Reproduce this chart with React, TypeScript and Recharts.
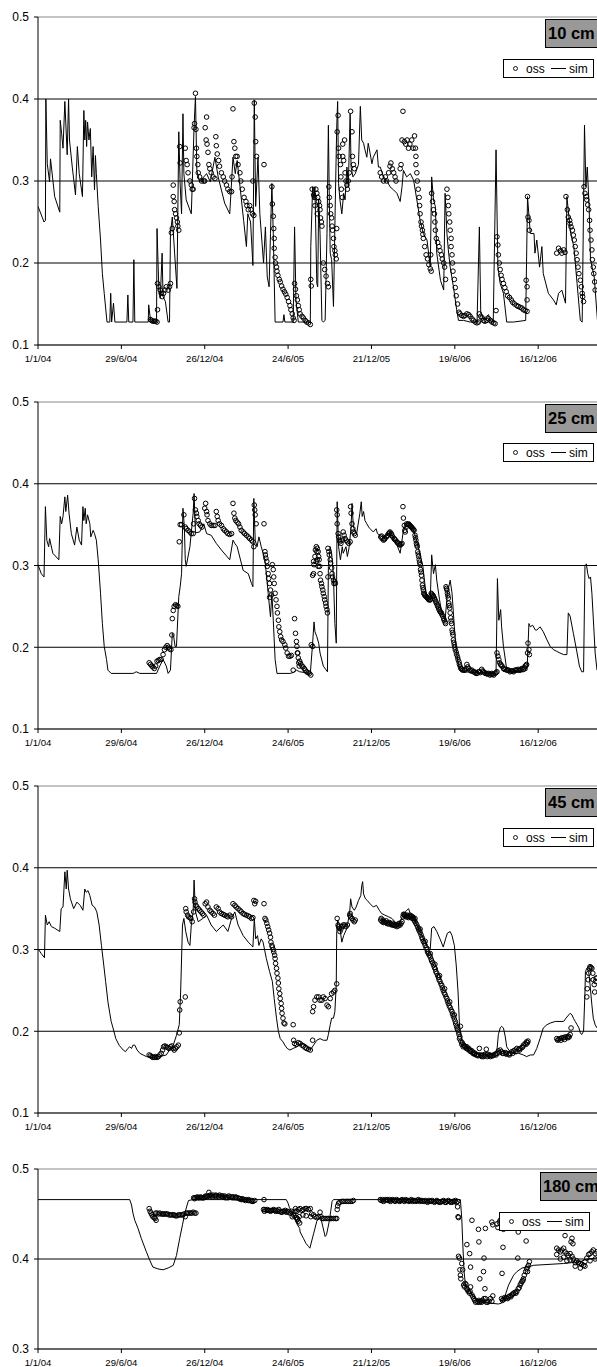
import { ComposedChart, Line, Scatter, XAxis, YAxis, ReferenceLine } from 'recharts';

// days since 1/1/04; ticks every 180 days
const tickDays = [0, 180, 360, 540, 720, 900, 1080];
const tickLabels = ['1/1/04', '29/6/04', '26/12/04', '24/6/05', '21/12/05', '19/6/06', '16/12/06'];
const lastDay = 1207;

const yTicksShallow = [0.1, 0.2, 0.3, 0.4, 0.5];
const yTicksDeep = [0.3, 0.4, 0.5];

// 10 cm
const sim10 = [
  [0,.269],[9,.256],[13,.25],[16,.252],[17,.4],[20,.321],[25,.299],[27,.327],[36,.281],[47,.262],[48,.374],[51,.358],
  [54,.34],[58,.397],[63,.332],[66,.4],[68,.35],[74,.317],[81,.283],[85,.342],[89,.309],[96,.281],[99,.386],[101,.35],
  [103,.374],[105,.342],[107,.372],[110,.35],[113,.364],[116,.305],[119,.342],[122,.289],[124,.331],[126,.309],[130,.269],
  [135,.228],[139,.187],[143,.163],[149,.128],[155,.128],[157,.163],[159,.128],[163,.151],[166,.128],[192,.128],[194,.161],
  [196,.128],[205,.128],[207,.204],[209,.128],[238,.128],[239,.149],[243,.13],[248,.128],[256,.128],[257,.242],[261,.167],
  [264,.157],[268,.212],[270,.159],[275,.153],[281,.128],[284,.128],[286,.236],[290,.256],[295,.212],[300,.169],[304,.36],
  [307,.295],[310,.26],[313,.382],[315,.309],[320,.277],[331,.26],[337,.366],[340,.403],[343,.313],[349,.299],[364,.309],
  [372,.299],[382,.329],[389,.305],[403,.273],[414,.26],[421,.329],[426,.309],[430,.325],[437,.289],[444,.252],[450,.22],
  [453,.26],[459,.25],[464,.197],[467,.399],[470,.269],[475,.329],[479,.26],[487,.2],[491,.244],[495,.183],[499,.171],
  [502,.236],[505,.297],[508,.236],[512,.128],[529,.128],[531,.137],[533,.128],[551,.128],[554,.244],[557,.155],[562,.128],
  [588,.128],[589,.22],[593,.293],[596,.277],[598,.293],[602,.175],[604,.171],[606,.277],[609,.236],[613,.13],[616,.128],
  [620,.13],[624,.236],[627,.368],[629,.277],[631,.212],[634,.204],[638,.147],[642,.277],[645,.366],[647,.397],[649,.297],
  [652,.277],[656,.26],[660,.285],[663,.277],[667,.317],[670,.293],[674,.382],[676,.317],[680,.305],[685,.309],[692,.32],
  [696,.391],[699,.35],[703,.346],[706,.338],[710,.329],[713,.346],[717,.334],[721,.321],[724,.329],[732,.338],[735,.317],
  [739,.317],[746,.305],[753,.301],[760,.293],[768,.289],[775,.285],[782,.275],[786,.293],[789,.313],[796,.305],[804,.309],
  [811,.301],[818,.277],[825,.252],[832,.236],[840,.228],[847,.195],[850,.305],[854,.277],[858,.269],[861,.212],[869,.179],
  [876,.167],[879,.285],[883,.236],[886,.216],[890,.195],[897,.171],[904,.143],[908,.13],[919,.13],[933,.128],[948,.128],
  [953,.244],[956,.139],[962,.132],[973,.137],[975,.13],[983,.128],[989,.338],[993,.195],[998,.175],[1005,.163],[1012,.128],
  [1027,.128],[1053,.13],[1057,.281],[1063,.236],[1071,.236],[1073,.212],[1077,.228],[1083,.195],[1088,.22],[1091,.187],
  [1102,.163],[1113,.155],[1119,.149],[1124,.163],[1131,.167],[1139,.151],[1142,.281],[1150,.236],[1157,.22],[1164,.175],
  [1171,.13],[1175,.128],[1180,.368],[1183,.293],[1186,.317],[1190,.269],[1193,.204],[1201,.183],[1208,.13],
];
const obs10 = [
  [243,.131],[245,.13],[248,.129],[251,.129],[254,.129],[257,.128],[258,.143],[258,.175],[261,.171],[264,.167],[266,.163],
  [268,.159],[271,.163],[274,.167],[277,.171],[281,.167],[284,.171],[286,.175],[288,.237],[290,.242],[292,.295],[292,.281],
  [294,.275],[295,.265],[297,.26],[299,.255],[301,.25],[302,.245],[304,.24],[306,.342],[307,.322],[318,.34],[320,.325],
  [322,.32],[324,.31],[328,.3],[331,.295],[333,.29],[335,.29],[337,.365],[338,.37],[340,.407],[341,.363],[342,.34],[343,.33],
  [345,.32],[346,.31],[349,.305],[353,.3],[358,.3],[360,.3],[361,.365],[363,.35],[364,.378],[365,.345],[367,.335],[369,.32],
  [371,.315],[374,.31],[378,.305],[382,.303],[384,.354],[385,.343],[387,.333],[390,.325],[392,.318],[396,.31],[400,.305],
  [403,.3],[407,.295],[410,.29],[414,.287],[418,.287],[419,.305],[421,.388],[423,.348],[425,.34],[427,.33],[430,.33],
  [432,.32],[436,.31],[438,.3],[441,.29],[445,.28],[449,.275],[451,.27],[454,.265],[457,.27],[460,.265],[463,.26],[466,.258],
  [467,.395],[469,.378],[470,.348],[472,.33],[464,.3],[488,.32],[505,.293],[506,.272],[508,.257],[509,.242],[510,.23],
  [510,.218],[512,.207],[513,.2],[515,.195],[516,.19],[518,.185],[521,.18],[523,.177],[526,.172],[529,.168],[532,.165],
  [535,.162],[538,.158],[541,.153],[544,.148],[546,.143],[549,.138],[551,.133],[553,.13],[554,.175],[556,.168],[558,.16],
  [560,.155],[562,.148],[564,.143],[566,.138],[570,.135],[573,.133],[577,.13],[580,.128],[584,.127],[588,.125],[589,.18],
  [590,.172],[592,.29],[595,.283],[597,.28],[598,.27],[600,.29],[602,.285],[603,.26],[604,.28],[606,.275],[608,.27],
  [609,.265],[610,.255],[612,.25],[613,.245],[616,.2],[619,.192],[622,.184],[625,.175],[627,.171],[628,.293],[629,.28],
  [631,.27],[632,.26],[634,.255],[635,.245],[636,.24],[638,.23],[639,.22],[641,.215],[642,.21],[644,.205],[645,.242],
  [646,.36],[648,.38],[649,.34],[650,.33],[653,.32],[654,.305],[655,.29],[657,.28],[658,.33],[658,.345],[660,.325],
  [662,.35],[663,.31],[665,.3],[667,.295],[668,.29],[670,.3],[672,.31],[675,.385],[678,.36],[679,.33],[681,.32],[683,.315],
  [739,.31],[742,.305],[746,.3],[750,.305],[753,.3],[757,.31],[760,.318],[762,.322],[765,.315],[768,.31],[771,.305],
  [773,.3],[782,.315],[784,.32],[786,.35],[788,.385],[791,.348],[794,.345],[797,.35],[800,.34],[803,.345],[807,.35],
  [810,.34],[813,.355],[815,.34],[816,.32],[816,.33],[818,.31],[819,.3],[821,.29],[823,.28],[824,.27],[825,.26],[827,.25],
  [828,.245],[830,.24],[831,.235],[832,.23],[835,.22],[838,.21],[841,.205],[844,.198],[847,.193],[849,.19],[848,.21],
  [850,.285],[852,.275],[854,.265],[856,.26],[857,.25],[858,.24],[860,.23],[863,.225],[866,.22],[868,.215],[871,.21],
  [873,.205],[876,.2],[878,.195],[880,.18],[883,.29],[885,.28],[886,.27],[887,.26],[889,.25],[890,.24],[892,.23],[892,.22],
  [894,.21],[895,.2],[896,.19],[899,.18],[901,.17],[903,.16],[906,.15],[909,.14],[911,.138],[915,.136],[919,.135],
  [922,.136],[926,.138],[930,.137],[933,.135],[937,.132],[940,.13],[944,.128],[948,.127],[951,.128],[953,.138],[956,.135],
  [959,.133],[962,.13],[965,.129],[969,.13],[973,.132],[977,.13],[980,.128],[984,.127],[987,.126],[989,.142],[991,.232],
  [993,.222],[994,.21],[996,.2],[998,.192],[1000,.185],[1002,.18],[1005,.175],[1008,.17],[1011,.165],[1014,.16],[1018,.158],
  [1022,.155],[1025,.152],[1029,.15],[1034,.148],[1037,.147],[1041,.146],[1045,.145],[1048,.143],[1052,.142],[1056,.141],
  [1054,.179],[1056,.171],[1056,.155],[1057,.281],[1058,.256],[1060,.252],[1061,.24],[1120,.212],[1124,.218],[1128,.215],
  [1131,.212],[1135,.216],[1138,.213],[1140,.281],[1143,.265],[1145,.256],[1148,.252],[1149,.248],[1151,.244],[1154,.24],
  [1156,.234],[1158,.228],[1160,.22],[1162,.212],[1164,.204],[1166,.195],[1168,.187],[1171,.179],[1173,.171],[1175,.163],
  [1176,.159],[1178,.153],[1179,.293],[1181,.285],[1184,.281],[1185,.277],[1187,.271],[1189,.265],[1191,.252],[1192,.24],
  [1194,.228],[1196,.216],[1197,.204],[1199,.195],[1200,.187],[1202,.177],[1203,.167],
];

// 25 cm
const sim25 = [
  [0,.301],[7,.29],[13,.286],[16,.372],[19,.331],[23,.323],[25,.333],[32,.315],[45,.307],[48,.36],[51,.351],[54,.36],
  [58,.384],[60,.366],[64,.386],[67,.364],[72,.339],[79,.325],[84,.347],[89,.331],[94,.325],[97,.372],[99,.355],[102,.37],
  [104,.351],[107,.362],[112,.351],[114,.335],[119,.343],[122,.339],[126,.331],[130,.307],[135,.266],[139,.229],[143,.201],
  [148,.185],[151,.172],[158,.168],[205,.168],[209,.169],[212,.17],[220,.168],[256,.168],[263,.177],[270,.185],[277,.177],
  [281,.168],[286,.172],[290,.217],[293,.213],[296,.201],[299,.201],[304,.262],[307,.274],[310,.29],[313,.37],[316,.347],
  [318,.307],[320,.299],[328,.323],[335,.364],[337,.388],[340,.34],[349,.341],[358,.351],[364,.339],[374,.337],[385,.327],
  [396,.319],[414,.307],[421,.331],[425,.327],[430,.323],[443,.294],[454,.29],[461,.278],[464,.274],[466,.382],[469,.331],
  [473,.323],[477,.335],[482,.323],[490,.307],[497,.266],[502,.237],[505,.266],[508,.233],[512,.185],[516,.168],[544,.168],
  [551,.169],[558,.172],[565,.17],[588,.168],[593,.205],[596,.231],[598,.219],[602,.213],[606,.205],[609,.193],[616,.177],
  [625,.17],[627,.299],[631,.323],[634,.315],[638,.286],[641,.229],[644,.205],[645,.299],[646,.378],[649,.323],[653,.307],
  [657,.323],[659,.315],[665,.323],[668,.311],[672,.323],[676,.347],[678,.376],[681,.347],[688,.339],[695,.364],[698,.378],
  [700,.36],[703,.366],[706,.355],[710,.351],[714,.347],[717,.345],[724,.341],[730,.345],[733,.339],[739,.337],[746,.333],
  [753,.337],[760,.339],[768,.333],[775,.325],[782,.315],[786,.331],[789,.343],[796,.351],[804,.351],[811,.343],[818,.329],
  [825,.313],[831,.299],[836,.274],[841,.258],[847,.258],[850,.313],[854,.29],[858,.301],[861,.282],[867,.258],[872,.242],
  [879,.233],[884,.266],[890,.282],[894,.266],[899,.225],[903,.197],[907,.181],[912,.172],[919,.17],[948,.169],[989,.168],
  [992,.284],[995,.233],[999,.246],[1001,.225],[1005,.201],[1011,.177],[1019,.17],[1048,.17],[1056,.172],[1060,.229],
  [1063,.225],[1068,.227],[1074,.221],[1077,.221],[1084,.225],[1091,.219],[1099,.209],[1106,.201],[1113,.197],[1120,.195],
  [1127,.193],[1135,.191],[1142,.191],[1145,.242],[1149,.238],[1156,.217],[1164,.193],[1169,.177],[1174,.17],[1178,.17],
  [1181,.299],[1184,.302],[1187,.29],[1190,.284],[1193,.286],[1196,.266],[1200,.225],[1203,.193],[1207,.172],
];
const obs25 = [
  [240,.181],[243,.179],[246,.177],[248,.176],[251,.174],[254,.177],[257,.183],[260,.184],[263,.185],[266,.185],[270,.191],
  [273,.197],[276,.2],[279,.202],[282,.2],[284,.198],[287,.197],[289,.215],[290,.235],[292,.245],[294,.25],[297,.252],
  [300,.251],[302,.25],[305,.329],[307,.35],[310,.35],[315,.362],[318,.347],[320,.345],[324,.343],[328,.341],[331,.339],
  [335,.339],[336,.351],[338,.382],[340,.368],[342,.364],[343,.36],[346,.355],[348,.351],[351,.349],[354,.347],[360,.37],
  [362,.376],[364,.366],[365,.362],[367,.355],[371,.351],[374,.349],[378,.349],[382,.349],[385,.366],[387,.36],[389,.355],
  [392,.351],[396,.349],[400,.345],[403,.343],[407,.341],[410,.339],[414,.338],[418,.339],[421,.376],[423,.364],[425,.358],
  [427,.355],[430,.353],[433,.351],[436,.347],[439,.343],[443,.341],[446,.339],[450,.337],[454,.335],[457,.333],[461,.331],
  [464,.329],[466,.323],[467,.374],[468,.368],[469,.362],[471,.351],[488,.351],[490,.317],[491,.313],[492,.309],[494,.305],
  [495,.299],[497,.29],[498,.284],[500,.261],[500,.278],[502,.27],[504,.264],[506,.301],[508,.295],[509,.286],[510,.278],
  [512,.266],[514,.258],[516,.25],[517,.242],[519,.233],[520,.225],[522,.219],[524,.213],[526,.209],[529,.207],[533,.203],
  [535,.199],[538,.193],[541,.189],[544,.189],[547,.19],[551,.172],[554,.235],[556,.217],[558,.207],[559,.201],[560,.193],
  [562,.187],[563,.181],[564,.177],[561,.193],[565,.183],[567,.18],[570,.177],[572,.176],[575,.174],[577,.172],[580,.17],
  [583,.169],[586,.168],[589,.166],[590,.203],[593,.201],[593,.288],[595,.29],[596,.301],[598,.311],[599,.319],[601,.323],
  [602,.317],[603,.321],[605,.317],[606,.311],[607,.307],[608,.299],[609,.29],[610,.282],[612,.278],[613,.274],[615,.27],
  [616,.266],[618,.262],[619,.258],[621,.254],[622,.25],[624,.246],[625,.242],[595,.305],[601,.305],[603,.307],[605,.299],
  [626,.321],[628,.317],[629,.313],[631,.307],[632,.303],[634,.297],[635,.29],[636,.286],[638,.282],[639,.278],[641,.28],
  [642,.278],[626,.286],[645,.368],[646,.362],[646,.351],[648,.339],[649,.335],[651,.331],[652,.329],[654,.327],[657,.331],
  [659,.341],[661,.337],[663,.333],[665,.331],[668,.329],[671,.327],[674,.329],[675,.372],[676,.364],[678,.351],[680,.345],
  [681,.341],[683,.339],[685,.337],[740,.335],[743,.333],[746,.331],[749,.333],[752,.335],[755,.337],[757,.339],[760,.341],
  [763,.339],[766,.335],[769,.333],[772,.331],[775,.329],[778,.327],[782,.325],[786,.327],[788,.372],[789,.358],[791,.349],
  [792,.343],[793,.341],[795,.347],[796,.351],[800,.351],[803,.349],[806,.347],[809,.345],[812,.343],[814,.337],[816,.331],
  [817,.327],[819,.323],[820,.317],[822,.311],[823,.307],[825,.301],[826,.295],[828,.288],[829,.282],[830,.276],[832,.27],
  [833,.266],[835,.264],[838,.262],[841,.26],[844,.258],[847,.258],[849,.266],[852,.264],[854,.262],[857,.258],[860,.254],
  [863,.25],[866,.246],[868,.244],[871,.242],[874,.238],[877,.233],[880,.229],[881,.274],[883,.27],[884,.266],[886,.26],
  [887,.254],[889,.248],[890,.242],[891,.236],[893,.229],[894,.221],[896,.215],[897,.209],[899,.203],[901,.197],[904,.191],
  [907,.185],[910,.179],[913,.174],[917,.172],[922,.172],[926,.179],[930,.174],[933,.172],[937,.172],[940,.17],[944,.169],
  [948,.168],[951,.17],[955,.169],[958,.173],[962,.17],[966,.168],[969,.168],[973,.168],[976,.166],[980,.168],[984,.166],
  [987,.168],[991,.17],[991,.193],[993,.189],[995,.185],[997,.181],[999,.179],[1002,.177],[1005,.174],[1009,.173],
  [1012,.172],[1016,.172],[1019,.17],[1023,.171],[1027,.17],[1030,.172],[1034,.172],[1037,.173],[1041,.172],[1045,.174],
  [1048,.173],[1052,.177],[1055,.179],[1057,.193],[1058,.205],[1060,.197],[1061,.191],
  // denser readings where the record forms solid bands
  [742,.336],[748,.332],[754,.336],[759,.34],[764,.337],[770,.332],[776,.328],[780,.326],[784,.326],[798,.35],[801,.35],
  [805,.348],[808,.346],[811,.344],[815,.334],[818,.325],[821,.314],[824,.304],[827,.292],[831,.273],[834,.265],[836,.263],
  [840,.261],[843,.259],[846,.258],[850,.265],[853,.263],[856,.26],[859,.256],[862,.252],[865,.248],[869,.243],[872,.24],
  [876,.235],[879,.231],[882,.272],[885,.263],[888,.251],[892,.232],[895,.218],[898,.206],[900,.2],[903,.194],[906,.188],
  [909,.182],[912,.176],[915,.173],[920,.172],[924,.174],[928,.176],[935,.171],[942,.17],[946,.168],[953,.17],[960,.171],
  [964,.169],[971,.167],[978,.167],[982,.167],[989,.169],[1000,.178],[1007,.173],[1014,.172],[1021,.171],[1025,.171],
  [1032,.172],[1039,.172],[1043,.173],[1050,.175],[1054,.178],
];

// 45 cm
const sim45 = [
  [0,.301],[7,.295],[14,.29],[16,.342],[20,.33],[24,.334],[29,.328],[36,.326],[47,.322],[50,.35],[54,.352],[58,.395],
  [61,.374],[63,.397],[66,.374],[70,.362],[77,.35],[84,.358],[91,.354],[97,.348],[101,.374],[104,.37],[108,.372],[112,.366],
  [117,.354],[122,.352],[127,.346],[132,.33],[137,.305],[142,.281],[146,.261],[151,.236],[155,.222],[158,.212],[162,.204],
  [168,.191],[175,.183],[184,.177],[189,.175],[194,.179],[198,.181],[202,.179],[205,.183],[209,.183],[214,.177],[220,.173],
  [227,.171],[234,.169],[248,.168],[263,.169],[277,.171],[284,.177],[292,.183],[299,.195],[305,.208],[308,.248],[312,.33],
  [315,.338],[319,.322],[324,.309],[328,.305],[331,.33],[335,.346],[337,.385],[340,.346],[346,.334],[356,.338],[364,.342],
  [374,.33],[385,.322],[400,.33],[410,.322],[418,.338],[425,.346],[432,.33],[443,.317],[454,.309],[461,.305],[464,.303],
  [467,.338],[470,.313],[474,.317],[477,.305],[482,.313],[486,.309],[493,.289],[500,.273],[506,.261],[510,.24],[515,.216],
  [519,.2],[523,.191],[529,.187],[533,.183],[538,.179],[544,.177],[551,.179],[559,.181],[570,.185],[580,.183],[588,.177],
  [595,.183],[602,.189],[609,.191],[616,.189],[624,.189],[627,.196],[631,.208],[634,.216],[638,.216],[641,.224],[644,.257],
  [645,.322],[647,.336],[651,.33],[656,.309],[660,.317],[667,.326],[673,.346],[675,.362],[678,.352],[683,.348],[687,.352],
  [692,.36],[697,.366],[699,.378],[701,.383],[703,.368],[707,.362],[711,.36],[717,.356],[724,.352],[731,.354],[737,.348],
  [742,.344],[749,.342],[757,.34],[764,.338],[771,.334],[778,.33],[782,.334],[788,.342],[793,.346],[800,.35],[804,.344],
  [811,.338],[818,.33],[825,.322],[832,.313],[840,.305],[847,.301],[850,.326],[855,.328],[861,.322],[868,.313],[875,.303],
  [880,.313],[884,.32],[890,.322],[894,.317],[899,.305],[903,.281],[907,.248],[910,.208],[915,.189],[922,.185],[930,.177],
  [937,.175],[944,.173],[958,.173],[966,.175],[973,.173],[984,.171],[991,.177],[994,.196],[998,.204],[1001,.206],[1005,.204],
  [1009,.193],[1012,.181],[1019,.175],[1027,.173],[1038,.173],[1048,.171],[1055,.169],[1063,.171],[1070,.171],[1077,.179],
  [1084,.191],[1091,.204],[1099,.208],[1106,.21],[1117,.212],[1135,.212],[1140,.216],[1146,.22],[1149,.222],[1153,.22],
  [1156,.216],[1160,.212],[1164,.208],[1168,.204],[1171,.198],[1174,.196],[1178,.2],[1181,.248],[1182,.273],[1185,.277],
  [1189,.273],[1192,.257],[1196,.232],[1199,.216],[1203,.208],[1207,.204],
];
const obs45 = [
  [240,.171],[243,.17],[246,.169],[248,.168],[251,.168],[254,.169],[257,.168],[260,.169],[263,.171],[266,.173],[269,.177],
  [271,.181],[274,.182],[277,.181],[280,.18],[283,.179],[286,.181],[289,.182],[292,.179],[294,.177],[297,.179],[300,.181],
  [303,.183],[305,.198],[306,.226],[307,.236],[318,.242],[319,.35],[320,.346],[323,.342],[325,.34],[328,.339],[330,.338],
  [333,.334],[336,.346],[338,.362],[339,.358],[341,.354],[343,.352],[346,.35],[349,.348],[352,.346],[355,.344],[358,.342],
  [361,.356],[364,.358],[367,.352],[371,.348],[374,.346],[378,.344],[381,.342],[385,.352],[389,.35],[392,.346],[396,.344],
  [400,.343],[403,.342],[407,.341],[410,.34],[414,.342],[418,.34],[421,.356],[425,.354],[428,.352],[432,.35],[436,.348],
  [439,.346],[443,.344],[446,.343],[450,.342],[454,.341],[457,.34],[461,.338],[464,.339],[466,.36],[468,.356],[470,.359],
  [488,.356],[490,.338],[492,.336],[494,.332],[496,.328],[498,.324],[500,.32],[502,.315],[503,.309],[505,.305],[506,.303],
  [508,.3],[509,.297],[511,.293],[512,.289],[513,.283],[515,.277],[516,.271],[518,.265],[519,.259],[520,.252],[522,.246],
  [523,.24],[525,.234],[526,.228],[527,.222],[529,.216],[531,.21],[533,.209],[551,.208],[552,.189],[554,.185],[558,.184],
  [562,.186],[566,.185],[570,.183],[573,.182],[577,.18],[580,.179],[584,.178],[588,.177],[593,.189],[593,.224],[595,.23],
  [598,.238],[602,.242],[606,.242],[609,.238],[613,.238],[616,.242],[620,.24],[624,.232],[627,.23],[631,.24],[634,.246],
  [638,.248],[641,.25],[645,.258],[646,.338],[648,.33],[649,.328],[651,.326],[652,.322],[654,.325],[657,.328],[659,.33],
  [662,.33],[665,.328],[668,.33],[673,.342],[674,.344],[675,.34],[678,.338],[680,.336],[683,.334],[685,.336],[740,.336],
  [743,.334],[746,.333],[750,.333],[753,.332],[757,.331],[760,.332],[764,.33],[767,.33],[771,.329],[775,.328],[778,.329],
  [782,.33],[786,.334],[788,.34],[789,.343],[792,.342],[795,.341],[798,.34],[801,.341],[804,.34],[806,.341],[809,.34],
  [811,.338],[814,.334],[818,.33],[822,.325],[825,.321],[829,.315],[832,.31],[836,.305],[840,.3],[843,.295],[847,.291],
  [850,.286],[854,.281],[858,.276],[861,.271],[865,.266],[868,.261],[872,.256],[875,.25],[879,.245],[883,.24],[886,.234],
  [890,.229],[894,.224],[897,.218],[901,.212],[904,.206],[906,.202],[909,.196],[910,.191],[912,.206],[913,.188],[916,.186],
  [919,.183],[923,.181],[926,.181],[930,.179],[933,.177],[937,.176],[940,.174],[944,.173],[948,.171],[951,.171],[953,.179],
  [956,.171],[959,.17],[962,.169],[966,.171],[968,.178],[971,.172],[974,.17],[977,.169],[980,.17],[984,.171],[987,.172],
  [991,.173],[994,.176],[998,.177],[1001,.175],[1005,.173],[1009,.174],[1012,.173],[1016,.172],[1019,.173],[1023,.175],
  [1027,.176],[1030,.177],[1034,.179],[1038,.178],[1041,.179],[1045,.18],[1048,.183],[1052,.185],[1055,.187],[1058,.188],
  [1120,.191],[1124,.19],[1127,.191],[1131,.192],[1135,.192],[1138,.193],[1142,.193],[1145,.194],[1149,.196],[1151,.204],
  [1185,.242],[1186,.252],[1188,.263],[1189,.271],[1191,.277],[1192,.279],[1194,.278],[1196,.277],[1198,.271],[1199,.263],
  [1201,.257],[1202,.248],[1204,.261],[1205,.265],[1207,.265],
  // denser readings where the record forms solid bands
  [741,.338],[745,.336],[748,.334],[752,.335],[755,.333],[759,.333],[762,.331],[766,.332],[769,.33],[773,.33],[777,.331],
  [780,.332],[784,.332],[791,.343],[794,.34],[797,.342],[800,.339],[803,.342],[808,.338],[812,.336],[816,.332],[820,.327],
  [823,.323],[827,.318],[830,.313],[834,.308],[838,.302],[841,.297],[845,.293],[849,.288],[852,.284],[856,.278],[859,.273],
  [863,.268],[866,.263],[870,.258],[873,.253],[877,.247],[881,.242],[884,.237],[888,.231],[892,.226],[895,.221],[899,.215],
  [902,.209],[905,.204],[908,.199],[814,.338],[825,.325],[836,.31],[847,.295],[857,.282],[867,.268],[878,.252],[889,.236],
  [899,.22],[911,.193],[915,.184],[918,.181],[921,.182],[925,.179],[928,.178],[932,.176],[935,.175],[939,.173],[942,.172],
  [946,.171],[950,.17],[958,.169],[964,.17],[970,.169],[976,.171],[982,.17],[989,.171],[996,.174],[1003,.173],[1011,.172],
  [1018,.171],[1025,.173],[1032,.175],[1040,.177],[1047,.181],[1054,.184],[1057,.186],[1122,.189],[1129,.189],[1137,.19],
  [1144,.192],[1147,.193],
];

// 180 cm
const sim180 = [
  [0,.466],[198,.466],[202,.46],[205,.451],[209,.443],[216,.434],[223,.423],[234,.408],[241,.399],[248,.391],[259,.389],
  [270,.388],[281,.39],[292,.393],[299,.404],[306,.423],[312,.438],[317,.451],[322,.46],[325,.465],[335,.466],[536,.466],
  [540,.462],[543,.457],[548,.453],[554,.445],[560,.438],[565,.434],[566,.43],[573,.423],[579,.417],[584,.414],[587,.412],
  [595,.428],[602,.442],[610,.447],[620,.425],[623,.427],[629,.442],[632,.453],[635,.464],[638,.466],[912,.466],[915,.445],
  [917,.419],[920,.386],[923,.371],[927,.367],[933,.364],[940,.358],[951,.354],[962,.352],[976,.351],[994,.35],[1001,.351],
  [1009,.36],[1016,.371],[1027,.382],[1034,.386],[1045,.39],[1055,.391],[1063,.392],[1070,.393],[1135,.395],[1171,.397],
  [1185,.4],[1207,.401],
];
const obs180 = [
  [240,.456],[242,.453],[244,.451],[246,.449],[248,.447],[251,.446],[253,.445],[255,.443],[254,.451],[257,.451],[260,.45],
  [263,.451],[266,.45],[269,.45],[271,.45],[274,.45],[277,.45],[280,.45],[283,.449],[286,.449],[289,.449],[292,.449],
  [294,.449],[297,.448],[300,.448],[303,.449],[306,.449],[309,.449],[312,.449],[315,.45],[318,.447],[320,.451],[323,.451],
  [326,.451],[329,.451],[332,.451],[335,.452],[338,.451],[341,.451],[336,.468],[339,.468],[342,.468],[346,.468],[349,.468],
  [353,.468],[356,.468],[360,.469],[364,.469],[367,.47],[369,.474],[372,.471],[375,.47],[378,.471],[382,.47],[385,.47],
  [389,.47],[392,.471],[396,.47],[400,.469],[403,.47],[407,.469],[410,.468],[414,.469],[418,.469],[421,.469],[425,.468],
  [428,.468],[432,.468],[436,.467],[439,.466],[443,.466],[446,.466],[450,.466],[454,.465],[457,.465],[461,.465],[464,.464],
  [468,.465],[488,.466],[487,.455],[490,.455],[493,.454],[497,.454],[500,.454],[504,.454],[507,.454],[511,.454],[515,.454],
  [518,.453],[522,.453],[525,.452],[529,.453],[532,.453],[536,.452],[539,.453],[544,.451],[547,.453],[549,.447],[551,.45],
  [553,.448],[555,.453],[556,.456],[558,.446],[560,.444],[562,.442],[565,.44],[559,.453],[562,.455],[566,.456],[570,.454],
  [573,.455],[577,.456],[580,.456],[584,.455],[588,.456],[560,.445],[564,.447],[572,.449],[579,.448],[589,.447],[591,.45],
  [595,.449],[598,.447],[602,.446],[605,.447],[609,.452],[611,.447],[613,.445],[616,.445],[620,.445],[624,.445],[627,.445],
  [631,.445],[634,.445],[638,.445],[642,.445],[645,.445],[646,.455],[647,.459],[649,.462],[652,.463],[656,.464],[659,.464],
  [663,.464],[667,.464],[670,.464],[674,.464],[678,.464],[681,.465],[739,.466],[744,.466],[749,.465],[754,.466],[759,.466],
  [764,.465],[769,.465],[774,.466],[779,.465],[784,.465],[789,.465],[794,.466],[799,.465],[804,.465],[809,.464],[814,.465],
  [819,.465],[824,.464],[829,.465],[834,.464],[839,.464],[844,.465],[849,.464],[854,.464],[859,.464],[864,.464],[869,.463],
  [874,.464],[879,.463],[884,.464],[889,.464],[894,.463],[899,.464],[903,.463],[906,.464],[906,.458],[907,.447],[908,.446],
  [908,.403],[910,.401],[911,.388],[912,.382],[913,.378],[915,.395],[917,.388],[919,.371],[921,.369],[922,.373],[924,.372],
  [926,.367],[927,.366],[929,.364],[932,.362],[933,.364],[934,.369],[937,.36],[939,.358],[941,.356],[943,.354],[945,.352],
  [948,.353],[950,.352],[952,.354],[954,.352],[956,.353],[958,.352],[960,.354],[963,.356],[966,.356],[968,.352],[971,.352],
  [974,.353],[977,.356],[980,.353],[982,.359],[926,.416],[932,.406],[934,.391],[937,.443],[951,.433],[952,.419],[954,.378],
  [962,.386],[963,.401],[966,.434],[965,.367],[980,.441],[982,.438],[991,.439],[993,.435],[996,.441],[998,.443],[1002,.384],
  [1004,.413],[1005,.433],[1036,.401],[1037,.43],[1054,.42],[1055,.442],[1057,.386],[1001,.356],[1005,.355],[1009,.356],
  [1012,.357],[1016,.358],[1019,.359],[1023,.36],[1027,.362],[1030,.363],[1034,.364],[1037,.367],[1041,.371],[1045,.375],
  [1048,.378],[1050,.382],[1053,.386],[1055,.389],[1057,.391],[1059,.393],[1061,.397],[1120,.412],[1124,.41],[1128,.408],
  [1131,.41],[1135,.412],[1138,.408],[1142,.406],[1145,.404],[1149,.406],[1153,.403],[1156,.4],[1160,.396],[1163,.398],
  [1167,.396],[1171,.395],[1174,.394],[1178,.393],[1181,.397],[1185,.401],[1189,.405],[1192,.406],[1196,.408],[1199,.41],
  [1203,.406],[1207,.408],[1138,.426],[1153,.423],[1155,.417],[1151,.419],[1120,.405],[1128,.4],[1135,.402],[1142,.398],
  [1149,.399],[1160,.392],[1171,.39],[1181,.392],[1192,.398],[1203,.4],
  // denser readings where the record forms solid bands
  [741,.465],[746,.464],[751,.466],[756,.465],[761,.464],[766,.466],[771,.464],[776,.465],[781,.464],[786,.466],[791,.464],
  [796,.465],[801,.464],[806,.466],[811,.465],[816,.464],[821,.466],[826,.465],[831,.464],[836,.465],[841,.463],[846,.464],
  [851,.465],[856,.463],[861,.465],[866,.463],[871,.464],[876,.465],[881,.463],[886,.465],[891,.463],[896,.464],[901,.465],
  [338,.467],[344,.469],[351,.469],[358,.468],[362,.47],[370,.47],[377,.469],[384,.471],[390,.469],[398,.47],[405,.468],
  [412,.47],[420,.468],[427,.469],[434,.467],[441,.467],[448,.465],[455,.466],[462,.464],[489,.453],[495,.455],[502,.453],
  [509,.455],[513,.453],[520,.455],[527,.452],[534,.454],[541,.452],[1003,.354],[1007,.357],[1014,.356],[1021,.358],
  [1025,.361],[1032,.362],[1039,.368],[1043,.373],[1047,.376],
];

const FONT = 'Arial, "Liberation Sans", sans-serif';

type Pt = { day: number; v: number };
const toPts = (a: number[][]): Pt[] => a.map(([day, v]) => ({ day, v }));

function Ring(props: any) {
  const { cx, cy } = props;
  if (cx == null || cy == null) return null;
  return <circle cx={cx} cy={cy} r={2.3} fill="none" stroke="#000" strokeWidth={1} />;
}

function Panel({ top, plotH, ticks, sim, obs }: { top: number; plotH: number; ticks: number[]; sim: number[][]; obs: number[][] }) {
  const lo = ticks[0];
  const hi = ticks[ticks.length - 1];
  return (
    <div style={{ position: 'absolute', left: 0, top: top - 10 }}>
      <ComposedChart width={597} height={plotH + 30} margin={{ top: 10, right: 0, bottom: 0, left: 0 }}>
        <XAxis
          type="number"
          dataKey="day"
          domain={[0, lastDay]}
          allowDataOverflow
          ticks={tickDays}
          tickFormatter={(d: number) => tickLabels[tickDays.indexOf(d)]}
          height={20}
          tickSize={4}
          tickMargin={6}
          axisLine={{ stroke: '#666', strokeWidth: 2 }}
          tickLine={{ stroke: '#000' }}
          tick={{ fill: '#000', fontSize: 9.6, fontFamily: FONT }}
          interval={0}
        />
        <YAxis
          type="number"
          dataKey="v"
          domain={[lo, hi]}
          allowDataOverflow
          ticks={ticks}
          tickFormatter={(v: number) => v.toFixed(1)}
          width={38}
          tickSize={4}
          tickMargin={5}
          axisLine={{ stroke: '#000' }}
          tickLine={{ stroke: '#000' }}
          tick={{ fill: '#000', fontSize: 12, fontFamily: FONT }}
          interval={0}
        />
        {ticks.slice(1).map((t) => (
          <ReferenceLine key={t} y={t} stroke={t === hi ? '#888' : '#000'} strokeWidth={1} />
        ))}
        <Line
          data={toPts(sim)}
          dataKey="v"
          type="linear"
          stroke="#000"
          strokeWidth={1}
          dot={false}
          activeDot={false}
          isAnimationActive={false}
        />
        <Scatter data={toPts(obs)} dataKey="v" shape={Ring} isAnimationActive={false} />
      </ComposedChart>
    </div>
  );
}

function DepthLabel({ text, left, top }: { text: string; left: number; top: number }) {
  return (
    <div
      style={{
        position: 'absolute',
        left,
        top,
        width: 80,
        height: 29,
        boxSizing: 'border-box',
        background: '#999',
        border: '1px solid #000',
        fontFamily: FONT,
        fontWeight: 'bold',
        fontSize: 16.5,
        lineHeight: '27px',
        paddingLeft: 2,
        color: '#000',
        whiteSpace: 'nowrap',
      }}
    >
      {text}
    </div>
  );
}

function LegendBox({ left, top }: { left: number; top: number }) {
  return (
    <svg style={{ position: 'absolute', left, top }} width={91} height={19}>
      <rect x={0.5} y={0.5} width={90} height={18} fill="#fff" stroke="#000" />
      <circle cx={12.5} cy={9.5} r={2} fill="none" stroke="#000" strokeWidth={0.9} />
      <text x={23} y={13.5} fontSize={12} fontFamily={FONT} fill="#000">oss</text>
      <line x1={48} x2={63} y1={9.5} y2={9.5} stroke="#000" />
      <text x={66} y={13.5} fontSize={12} fontFamily={FONT} fill="#000">sim</text>
    </svg>
  );
}

const panels = [
  { key: 'p10', top: 17, plotH: 328, ticks: yTicksShallow, sim: sim10, obs: obs10, label: '10 cm', labelLeft: 545, labelTop: 19, legLeft: 503, legTop: 59 },
  { key: 'p25', top: 402, plotH: 327, ticks: yTicksShallow, sim: sim25, obs: obs25, label: '25 cm', labelLeft: 545, labelTop: 404, legLeft: 503, legTop: 443 },
  { key: 'p45', top: 786, plotH: 327, ticks: yTicksShallow, sim: sim45, obs: obs45, label: '45 cm', labelLeft: 545, labelTop: 788, legLeft: 503, legTop: 828 },
  { key: 'p180', top: 1169, plotH: 180, ticks: yTicksDeep, sim: sim180, obs: obs180, label: '180 cm', labelLeft: 540, labelTop: 1172, legLeft: 499, legTop: 1212 },
];

export default function App() {
  return (
    <div style={{ position: 'absolute', left: 0, top: 0, width: 597, height: 1367, overflow: 'hidden', background: '#fff' }}>
      {panels.map((p) => (
        <div key={p.key}>
          <Panel top={p.top} plotH={p.plotH} ticks={p.ticks} sim={p.sim} obs={p.obs} />
          <DepthLabel text={p.label} left={p.labelLeft} top={p.labelTop} />
          <LegendBox left={p.legLeft} top={p.legTop} />
        </div>
      ))}
    </div>
  );
}
